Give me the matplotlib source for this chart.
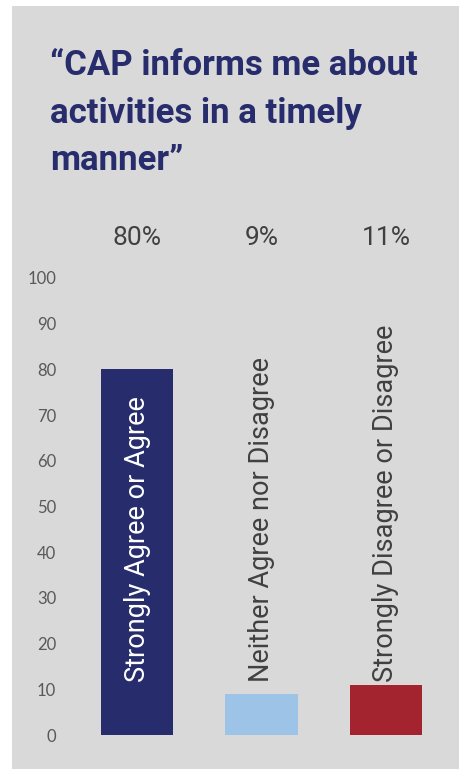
import matplotlib.pyplot as plt
from matplotlib.patches import Rectangle

# survey responses (percent)
categories = ["Strongly Agree or Agree", "Neither Agree nor Disagree",
              "Strongly Disagree or Disagree"]
values = [80, 9, 11]
pct_labels = ["80%", "9%", "11%"]
colors = ["#262c6c", "#9dc3e6", "#a3232f"]
label_colors = ["white", "#404040", "#404040"]
yticks = [0, 10, 20, 30, 40, 50, 60, 70, 80, 90, 100]

W, H = 460, 769
fig = plt.figure(figsize=(W / 100, H / 100), dpi=100)
fig.patch.set_facecolor("white")

# grey panel behind everything
fig.patches.append(Rectangle((12 / W, 0), 1 - 12 / W, 1 - 6 / H,
                             transform=fig.transFigure, facecolor="#d9d9d9",
                             edgecolor="none", zorder=-5))

fig.text(50 / W, 1 - 113 / H,
         "\u201cCAP informs me about\nactivities in a timely\nmanner\u201d",
         ha="left", va="center", fontsize=25, fontweight="bold",
         color="#262c6c", family="Roboto", linespacing=1.55)

ax = fig.add_axes([75 / W, (H - 735) / H, (448 - 75) / W, (735 - 278) / H])
ax.set_facecolor("none")
ax.set_zorder(2)
x = list(range(len(values)))
ax.bar(x, values, width=0.58, color=colors, zorder=2)
ax.set_xlim(-0.5, 2.5)
ax.set_ylim(0, 100)
ax.set_yticks(yticks)
ax.set_xticks([])
ax.tick_params(axis="y", length=0, pad=13.5, labelsize=12, labelcolor="#595959")
for lbl in ax.get_yticklabels():
    lbl.set_family("Lato")
for s in ax.spines.values():
    s.set_visible(False)

# category names standing up from just above 10
for i, name in enumerate(categories):
    ax.text(x[i], 11.5, name, rotation=90, ha="center", va="bottom",
            fontsize=19.5, color=label_colors[i], family="Roboto", zorder=3)

# percentage row above the plot
pct_y = (735 - 238) / (735 - 278)
for i, p in enumerate(pct_labels):
    ax.text(x[i], pct_y, p, transform=ax.get_xaxis_transform(), ha="center",
            va="center", fontsize=19, color="#404040", family="Roboto")

fig.savefig("out.png", dpi=100)
